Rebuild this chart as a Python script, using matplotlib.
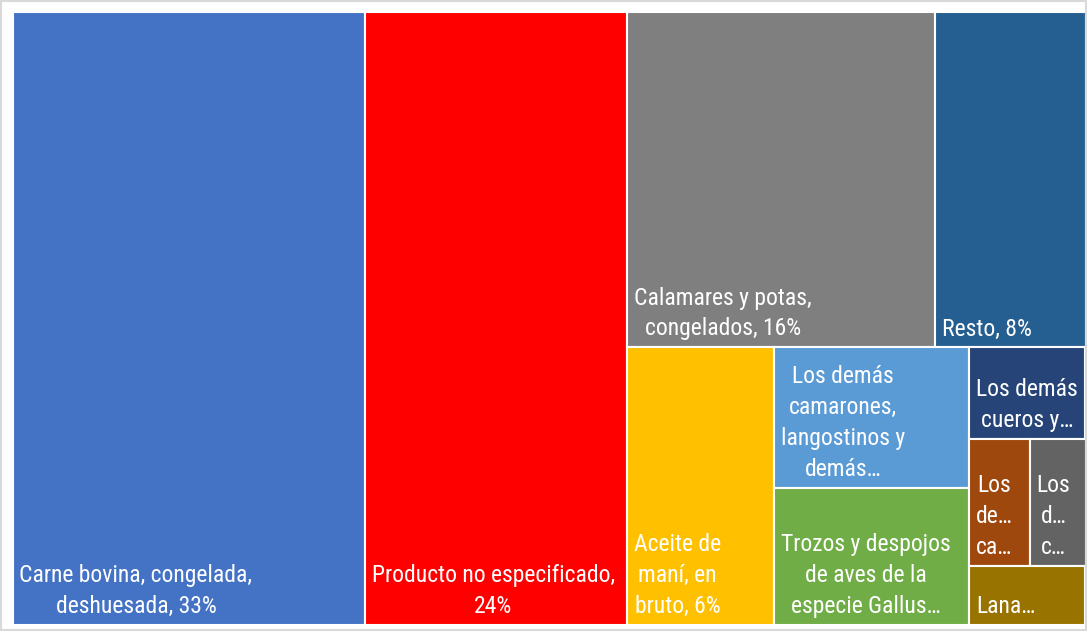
import matplotlib.pyplot as plt
from matplotlib.patches import Rectangle

# treemap data (share of total, %)
labels = [
    'Carne bovina, congelada,\ndeshuesada, 33%',
    'Producto no especificado,\n24%',
    'Calamares y potas,\ncongelados, 16%',
    'Resto, 8%',
    'Aceite de\nmaní, en\nbruto, 6%',
    'Los demás\ncamarones,\nlangostinos y\ndemás…',
    'Trozos y despojos\nde aves de la\nespecie Gallus…',
    'Los demás\ncueros y…',
    'Los\nde…\nca…',
    'Los\nd…\nc…',
    'Lana…',
]
values = [32.8, 24.4, 15.7, 7.7, 6.2, 4.15, 4.05, 1.62, 1.17, 1.08, 1.03]
colors = ['#4472C4', '#FF0000', '#7F7F7F', '#255E91', '#FFC000', '#5B9BD5',
          '#70AD47', '#264478', '#9E480E', '#636363', '#997300']

# nesting of the tiles: 'h' = side by side, 'v' = stacked
layout = ('h', [0, 1, ('v', [('h', [2, 3]),
                             ('h', [4, ('v', [5, 6]),
                                    ('v', [7, ('h', [8, 9]), 10])])])])

plt.rcParams['font.family'] = ['Liberation Sans Narrow', 'Roboto Condensed', 'DejaVu Sans']


def total(node):
    if isinstance(node, int):
        return values[node]
    return sum(total(c) for c in node[1])


def place(node, x, y, w, h, out):
    """ split the box (x, y, w, h) among the children proportionally to their values """
    if isinstance(node, int):
        out.append((node, x, y, w, h))
        return
    kind, kids = node
    s = total(node)
    for k in kids:
        f = total(k) / s
        if kind == 'h':
            place(k, x, y, w * f, h, out)
            x += w * f
        else:
            place(k, x, y, w, h * f, out)
            y += h * f


fig = plt.figure(figsize=(10.87, 6.31), dpi=100)
ax = fig.add_axes([12.5 / 1087, 6.5 / 631, 1073 / 1087, 613 / 631])
ax.set_xlim(0, 1)
ax.set_ylim(1, 0)
ax.axis('off')

tiles = []
place(layout, 0, 0, 1, 1, tiles)
for i, x, y, w, h in tiles:
    ax.add_patch(Rectangle((x, y), w, h, facecolor=colors[i], edgecolor='white', lw=1.5))
    ax.annotate(labels[i], xy=(x, y + h), xytext=(5, 5), textcoords='offset points',
                ha='left', va='bottom', multialignment='center', color='white',
                fontsize=17, linespacing=1.44)

fig.patches.append(Rectangle((0.001, 0.001), 0.998, 0.997, transform=fig.transFigure,
                             fill=False, edgecolor='#D9D9D9', lw=1.5))
fig.savefig('out.png', dpi=100)
